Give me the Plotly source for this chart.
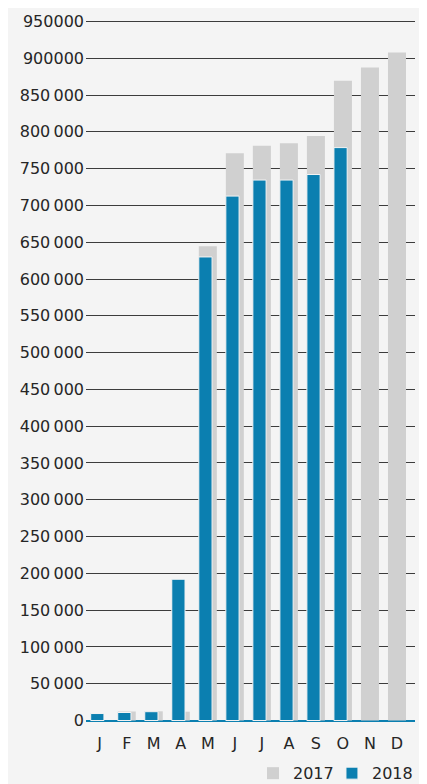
import plotly.graph_objects as go

months = ["J", "F", "M", "A", "M", "J", "J", "A", "S", "O", "N", "D"]
values_2017 = [None, 12300, 12500, 12000, 644500, 771000, 781000, 784500, 794500, 869500, 887500, 908000]
values_2018 = [9500, 10900, 12000, 192000, 630000, 712700, 734500, 734500, 742000, 778600, None, None]
tick_values = list(range(0, 950001, 50000))
tick_labels = ["0", "50\u2009000", "100\u2009000", "150\u2009000", "200\u2009000", "250\u2009000",
               "300\u2009000", "350\u2009000", "400\u2009000", "450\u2009000", "500\u2009000",
               "550\u2009000", "600\u2009000", "650\u2009000", "700\u2009000", "750\u2009000",
               "800\u2009000", "850\u2009000", "900000", "950000"]

x = list(range(len(months)))
GRAY = "#d0d0d0"
BLUE = "#0b7fb0"
FONT = "DejaVu Sans"
TEXT = "#262626"

fig = go.Figure()
fig.add_trace(go.Bar(
    x=x, y=values_2017, name="2017", marker=dict(color=GRAY, line=dict(width=0)),
    width=0.667, offset=-0.333, legend="legend",
))
fig.add_trace(go.Bar(
    x=x, y=values_2018, name="2018", marker=dict(color=BLUE, line=dict(width=1, color="#f4f4f4")),
    width=0.49, offset=-0.333, legend="legend2",
))

legend_common = dict(orientation="h", xanchor="right", yanchor="middle", y=-0.073,
                     font=dict(size=16, color=TEXT), itemwidth=30, bgcolor="rgba(0,0,0,0)")

fig.update_layout(
    width=419, height=776,
    margin=dict(l=78, r=12, t=12, b=62, autoexpand=False),
    barmode="overlay",
    paper_bgcolor="#f4f4f4", plot_bgcolor="#f4f4f4",
    font=dict(family=FONT, size=16, color=TEXT),
    showlegend=True,
    legend=dict(x=0.769, **legend_common),
    legend2=dict(x=1.009, **legend_common),
    xaxis=dict(range=[-0.507, 11.667], tickmode="array", tickvals=x, ticktext=months,
               showgrid=False, zeroline=False, showline=False, ticks="",
               ticklabelstandoff=10, fixedrange=True, automargin=False),
    yaxis=dict(range=[-2000, 952000], tickmode="array", tickvals=tick_values, ticktext=tick_labels,
               showgrid=True, gridcolor="#3c3c3c", gridwidth=1,
               zeroline=True, zerolinecolor=BLUE, zerolinewidth=2,
               showline=False, ticks="", ticklabelstandoff=1, fixedrange=True, automargin=False),
)

fig.write_html("out.html")
